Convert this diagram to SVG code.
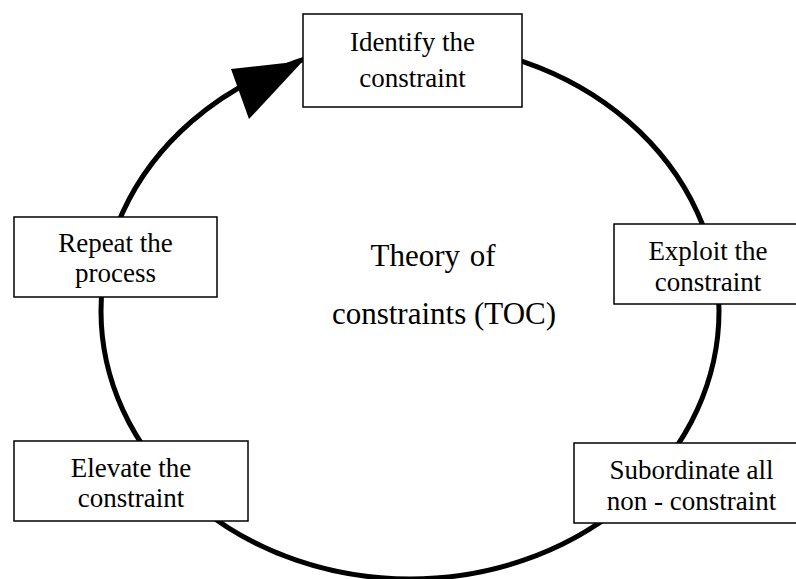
<svg xmlns="http://www.w3.org/2000/svg" width="796" height="579" viewBox="0 0 796 579">
<style>
.box{fill:#fff;stroke:#000;stroke-width:1.5}
.t{font-family:"Liberation Serif","Times New Roman",serif;font-size:27px;fill:#000;text-anchor:middle}
.c{font-family:"Liberation Serif","Times New Roman",serif;font-size:31px;fill:#000;text-anchor:middle}
</style>
<rect width="796" height="579" fill="#fff"/>
<g id="connectors">
<ellipse cx="410" cy="311" rx="309" ry="268" fill="none" stroke="#000" stroke-width="5"/>
<polygon points="303,61 231,69 249,119" fill="#000"/>
</g>
<g id="center-label">
<text class="c" x="433" y="266" word-spacing="2">Theory of</text>
<text class="c" x="444" y="324">constraints (TOC)</text>
</g>
<g id="identify">
<rect class="box" x="303" y="14" width="219" height="93"/>
<text class="t" x="412.5" y="51">Identify the</text>
<text class="t" x="412.5" y="87">constraint</text>
</g>
<g id="exploit">
<rect class="box" x="614" y="224" width="190" height="80"/>
<text class="t" x="708" y="260">Exploit the</text>
<text class="t" x="708" y="291">constraint</text>
</g>
<g id="subordinate">
<rect class="box" x="574" y="443" width="235" height="80"/>
<text class="t" x="691.5" y="479">Subordinate all</text>
<text class="t" x="691.5" y="510">non - constraint</text>
</g>
<g id="elevate">
<rect class="box" x="14" y="441" width="234" height="80"/>
<text class="t" x="131" y="477">Elevate the</text>
<text class="t" x="131" y="507">constraint</text>
</g>
<g id="repeat">
<rect class="box" x="14" y="217" width="203" height="80"/>
<text class="t" x="115.5" y="252">Repeat the</text>
<text class="t" x="115.5" y="282">process</text>
</g>
</svg>
